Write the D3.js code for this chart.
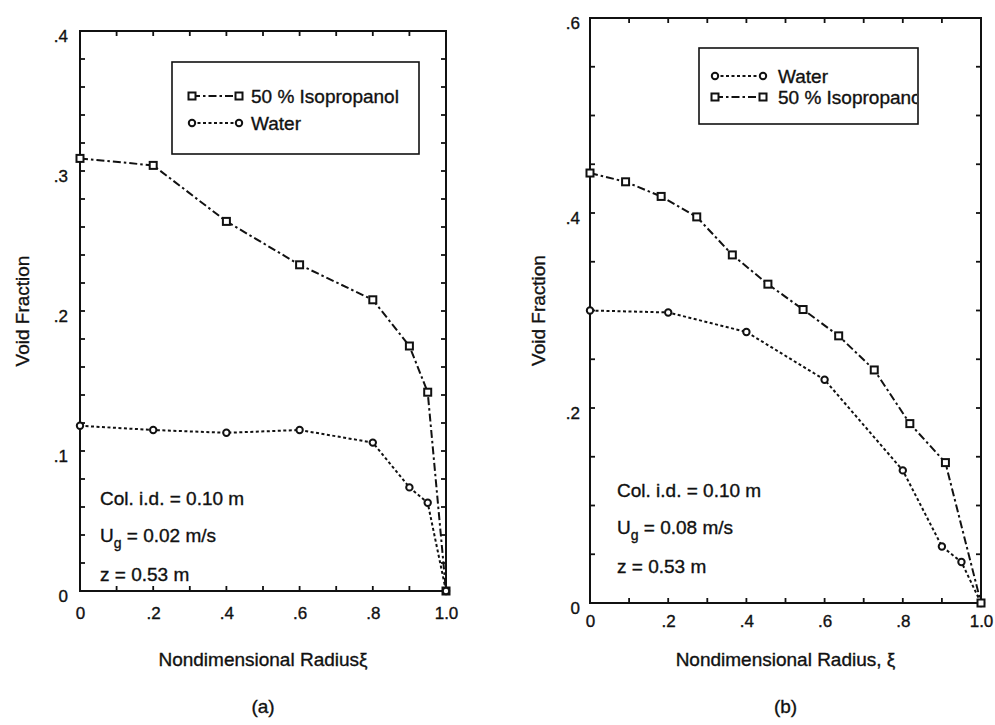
<!DOCTYPE html>
<html>
<head>
<meta charset="utf-8">
<script src="https://cdn.jsdelivr.net/npm/d3@7"></script>
<style>
  body { margin: 0; background: #fff; }
  svg { display: block; font-family: "Liberation Sans", Arial, Helvetica, sans-serif; }
  svg text { stroke: #111; stroke-width: 0.35px; }
  .axis path, .axis line { stroke: none; }
  .axis text { font-size: 17px; fill: #111; }
</style>
</head>
<body>
<svg width="995" height="725"></svg>
<script>
// data
// panel (a)
const xA = [0, 0.2, 0.4, 0.6, 0.8, 0.9, 0.95, 1.0];
const isoA = [0.309, 0.304, 0.264, 0.233, 0.208, 0.175, 0.142, 0];
const waterA = [0.118, 0.115, 0.113, 0.115, 0.106, 0.074, 0.063, 0];

// panel (b)
const xIsoB = [0, 0.091, 0.182, 0.273, 0.364, 0.455, 0.545, 0.636, 0.727, 0.818, 0.909, 1.0];
const isoB = [0.441, 0.432, 0.417, 0.396, 0.357, 0.327, 0.301, 0.274, 0.239, 0.184, 0.144, 0];
const xWaterB = [0, 0.2, 0.4, 0.6, 0.8, 0.9, 0.95, 1.0];
const waterB = [0.300, 0.298, 0.278, 0.229, 0.136, 0.058, 0.042, 0];

// tick labels
const xTicks = [0, 0.2, 0.4, 0.6, 0.8, 1.0];
const xTickLabels = ["0", ".2", ".4", ".6", ".8", "1.0"];
const yTicksA = [0, 0.1, 0.2, 0.3, 0.4];
const yTickLabelsA = ["0", ".1", ".2", ".3", ".4"];
const yTicksB = [0, 0.2, 0.4, 0.6];
const yTickLabelsB = ["0", ".2", ".4", ".6"];

const seriesNames = ["50 % Isopropanol", "Water"];

const svg = d3.select('svg');

// dash patterns voor de twee lijnen
const dashIso = '8,3,2.5,3';
const dashWater = '3,2.5';

function zip(xs, ys) {
  return xs.map((x, i) => ({ x: x, y: ys[i] }));
}

function drawPanel(cfg) {
  const x = d3.scaleLinear().domain([0, 1]).range([cfg.left, cfg.right]);
  const y = d3.scaleLinear().domain([0, cfg.yMax]).range([cfg.bottom, cfg.top]);
  const w = cfg.right - cfg.left;
  const h = cfg.bottom - cfg.top;
  const g = svg.append('g');

  // inward ticks on all four sides (drawn from the scales)
  const xMinor = d3.range(0, 1.0001, 0.1);
  const yMinor = d3.range(0, cfg.yMax + 1e-9, cfg.yStep);
  const tl = 5;
  const tk = g.append('g').attr('stroke', '#111').attr('stroke-width', 1.8);
  tk.selectAll('.xb').data(xMinor).join('line')
    .attr('x1', d => x(d)).attr('x2', d => x(d))
    .attr('y1', cfg.bottom).attr('y2', cfg.bottom - tl);
  tk.selectAll('.xt').data(xMinor).join('line')
    .attr('x1', d => x(d)).attr('x2', d => x(d))
    .attr('y1', cfg.top).attr('y2', cfg.top + tl);
  tk.selectAll('.yl').data(yMinor).join('line')
    .attr('y1', d => y(d)).attr('y2', d => y(d))
    .attr('x1', cfg.left).attr('x2', cfg.left + tl);
  tk.selectAll('.yr').data(yMinor).join('line')
    .attr('y1', d => y(d)).attr('y2', d => y(d))
    .attr('x1', cfg.right).attr('x2', cfg.right - tl);

  // tick labels
  g.append('g').attr('class', 'axis')
    .attr('transform', `translate(0,${cfg.bottom})`)
    .call(d3.axisBottom(x).tickValues(xTicks).tickSize(0).tickPadding(cfg.xPad)
      .tickFormat((d, i) => xTickLabels[i]));
  g.append('g').attr('class', 'axis')
    .attr('transform', `translate(${cfg.left},0)`)
    .call(d3.axisLeft(y).tickValues(cfg.yTicks).tickSize(0).tickPadding(cfg.yPad)
      .tickFormat((d, i) => cfg.yLabels[i]))
    .selectAll('text').attr('dy', '0.6em');

  // frame
  g.append('rect')
    .attr('x', cfg.left).attr('y', cfg.top)
    .attr('width', w).attr('height', h)
    .attr('fill', 'none').attr('stroke', '#111').attr('stroke-width', 2);

  // lijnen + markers
  const line = d3.line().x(d => x(d.x)).y(d => y(d.y));
  cfg.series.forEach(s => {
    g.append('path')
      .datum(s.data)
      .attr('d', line)
      .attr('fill', 'none')
      .attr('stroke', '#111')
      .attr('stroke-width', 2)
      .attr('stroke-dasharray', s.dash);
    drawMarkers(g, s.data.map(d => [x(d.x), y(d.y)]), s.marker);
  });

  // legend
  const lg = cfg.legend;
  g.append('rect')
    .attr('x', lg.x).attr('y', lg.y).attr('width', lg.w).attr('height', lg.h)
    .attr('fill', '#fff').attr('stroke', '#111').attr('stroke-width', 1.6);
  const clipId = 'clip' + cfg.id;
  svg.append('clipPath').attr('id', clipId)
    .append('rect').attr('x', lg.x).attr('y', lg.y).attr('width', lg.w - 1).attr('height', lg.h);
  lg.items.forEach((it, i) => {
    const yy = lg.y + lg.first + i * lg.gap;
    g.append('line')
      .attr('x1', lg.x + lg.s0).attr('x2', lg.x + lg.s1)
      .attr('y1', yy).attr('y2', yy)
      .attr('stroke', '#111').attr('stroke-width', 2)
      .attr('stroke-dasharray', it.dash);
    drawMarkers(g, [[lg.x + lg.s0, yy], [lg.x + lg.s1, yy]], it.marker);
    g.append('text')
      .attr('clip-path', `url(#${clipId})`)
      .attr('x', lg.x + lg.tx).attr('y', yy + 7)
      .attr('font-size', 19).attr('fill', '#111')
      .text(it.name);
  });

  // axis titles
  g.append('text')
    .attr('x', (cfg.left + cfg.right) / 2).attr('y', 666)
    .attr('text-anchor', 'middle').attr('font-size', 19).attr('fill', '#111')
    .text(cfg.xTitle);
  g.append('text')
    .attr('transform', `translate(${cfg.yTitleX},${(cfg.top + cfg.bottom) / 2}) rotate(-90)`)
    .attr('text-anchor', 'middle').attr('font-size', 19).attr('fill', '#111')
    .text('Void Fraction');

  // annotations
  g.append('text').attr('x', cfg.annX).attr('y', cfg.annY)
    .attr('font-size', 19).attr('fill', '#111').text('Col. i.d. = 0.10 m');
  const ug = g.append('text').attr('x', cfg.annX).attr('y', cfg.annY + 37)
    .attr('font-size', 19).attr('fill', '#111');
  ug.append('tspan').text('U');
  ug.append('tspan').attr('font-size', 14).attr('dy', 6).text('g');
  ug.append('tspan').attr('dy', -6).text(' = ' + cfg.ug + ' m/s');
  g.append('text').attr('x', cfg.annX).attr('y', cfg.annY + 76)
    .attr('font-size', 19).attr('fill', '#111').text('z = 0.53 m');

  // panel label
  g.append('text')
    .attr('x', (cfg.left + cfg.right) / 2).attr('y', 713)
    .attr('text-anchor', 'middle').attr('font-size', 19).attr('fill', '#111')
    .text(cfg.label);
}

function drawMarkers(g, pts, type) {
  pts.forEach(p => {
    if (type === 'square') {
      g.append('rect')
        .attr('x', p[0] - 3.5).attr('y', p[1] - 3.5)
        .attr('width', 7).attr('height', 7)
        .attr('fill', '#fff').attr('stroke', '#111').attr('stroke-width', 2);
    } else {
      g.append('circle')
        .attr('cx', p[0]).attr('cy', p[1]).attr('r', 3.2)
        .attr('fill', '#fff').attr('stroke', '#111').attr('stroke-width', 2);
    }
  });
}

drawPanel({
  id: 'a', label: '(a)',
  left: 80, right: 446, top: 31, bottom: 591,
  yMax: 0.4, yStep: 0.02, yTicks: yTicksA, yLabels: yTickLabelsA,
  xPad: 16, yPad: 12, yTitleX: 29,
  xTitle: 'Nondimensional Radiusξ',
  ug: '0.02', annX: 100, annY: 505,
  series: [
    { data: zip(xA, isoA), dash: dashIso, marker: 'square' },
    { data: zip(xA, waterA), dash: dashWater, marker: 'circle' }
  ],
  legend: {
    x: 172, y: 62, w: 247, h: 92, first: 34, gap: 27, s0: 20, s1: 67, tx: 79,
    items: [
      { name: seriesNames[0], dash: dashIso, marker: 'square' },
      { name: seriesNames[1], dash: dashWater, marker: 'circle' }
    ]
  }
});

drawPanel({
  id: 'b', label: '(b)',
  left: 590, right: 981, top: 18, bottom: 603,
  yMax: 0.6, yStep: 0.05, yTicks: yTicksB, yLabels: yTickLabelsB,
  xPad: 12, yPad: 10, yTitleX: 545,
  xTitle: 'Nondimensional Radius, ξ',
  ug: '0.08', annX: 617, annY: 497,
  series: [
    { data: zip(xWaterB, waterB), dash: dashWater, marker: 'circle' },
    { data: zip(xIsoB, isoB), dash: dashIso, marker: 'square' }
  ],
  legend: {
    x: 699, y: 48, w: 219, h: 76, first: 28, gap: 21, s0: 16, s1: 64, tx: 79,
    items: [
      { name: seriesNames[1], dash: dashWater, marker: 'circle' },
      { name: seriesNames[0], dash: dashIso, marker: 'square' }
    ]
  }
});
</script>
</body>
</html>
